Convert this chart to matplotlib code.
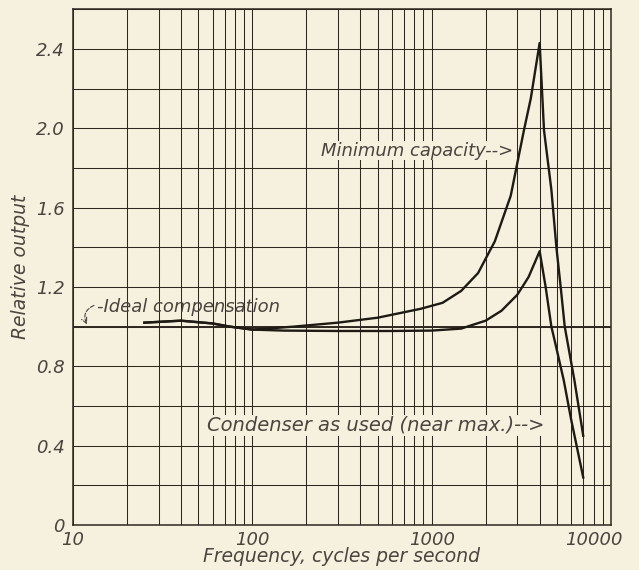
import numpy as np
import matplotlib.pyplot as plt
from matplotlib.ticker import LogLocator, MultipleLocator, FixedLocator, NullFormatter

plt.rcParams['font.style'] = 'italic'

# curves (frequency in c/s, relative output)
f_ideal = [10, 10000]
v_ideal = [1.0, 1.0]

f_min = [25, 40, 60, 75, 100, 120, 170, 300, 500, 870, 1150, 1460, 1815, 2250,
         2760, 3270, 3570, 4000, 4230, 4650, 4960, 5240, 5520, 6250, 7000]
v_min = [1.02, 1.03, 1.016, 1.0, 0.985, 0.99, 1.0, 1.02, 1.045, 1.09, 1.12, 1.18, 1.27, 1.43,
         1.66, 1.99, 2.15, 2.43, 1.99, 1.69, 1.40, 1.20, 1.00, 0.73, 0.45]

f_cond = [25, 40, 60, 75, 100, 150, 300, 600, 1000, 1460, 2000, 2450, 3000, 3470,
          4000, 4320, 4650, 4850, 5450, 6000, 7000]
v_cond = [1.02, 1.03, 1.016, 1.0, 0.985, 0.98, 0.978, 0.978, 0.98, 0.99, 1.03, 1.08, 1.16, 1.25,
          1.38, 1.20, 1.00, 0.93, 0.73, 0.53, 0.24]

x_ticks = [10, 100, 1000, 10000]
x_labels = ["10", "100", "1000", ""]
y_ticks = [0, 0.4, 0.8, 1.2, 1.6, 2.0, 2.4]
y_labels = ["0", "0.4", "0.8", "1.2", "1.6", "2.0", "2.4"]

paper = "#f6f1df"
ink = "#2e2820"
txt = "#4a453e"

fig = plt.figure(figsize=(6.39, 5.70), dpi=100, facecolor=paper)
ax = fig.add_axes([0.1142, 0.0789, 0.842, 0.905])
ax.set_facecolor(paper)

ax.set_xscale("log")
ax.set_xlim(10, 10000)
ax.set_ylim(0, 2.6)

ax.xaxis.set_major_locator(FixedLocator(x_ticks))
ax.xaxis.set_minor_locator(LogLocator(base=10, subs=np.arange(2, 10)))
ax.xaxis.set_minor_formatter(NullFormatter())
ax.set_xticklabels(x_labels, fontstyle="italic")
ax.yaxis.set_major_locator(FixedLocator(y_ticks))
ax.yaxis.set_minor_locator(MultipleLocator(0.2))
ax.set_yticklabels(y_labels, fontstyle="italic")

ax.grid(True, which="both", color=ink, lw=0.75)
ax.set_axisbelow(True)
for s in ax.spines.values():
    s.set_color(ink)
    s.set_linewidth(1.1)

ax.tick_params(which="both", length=0, colors=txt, labelsize=13)
ax.tick_params(axis="x", pad=4)
ax.tick_params(axis="y", pad=6)
# last label would run off the page, so it sits a little to the left like the original
ax.annotate("10000", xy=(10000, 0), xytext=(-12, -4), textcoords="offset points",
            ha="center", va="top", fontsize=13, style="italic", color=txt,
            annotation_clip=False)

ax.plot(f_ideal, v_ideal, color=ink, lw=1.4)
ax.plot(f_min, v_min, color="#1e1a14", lw=1.7)
ax.plot(f_cond, v_cond, color="#1e1a14", lw=1.7)

ax.set_xlabel("Frequency, cycles per second", fontsize=13.5, style="italic",
              color=txt, labelpad=-1)
ax.set_ylabel("Relative output", fontsize=13.5, style="italic", color=txt, labelpad=4)

ax.text(13.6, 1.097, "-Ideal compensation", fontsize=13, style="italic",
        color=txt, va="center", ha="left")
ax.annotate("", xy=(11.97, 1.011), xytext=(13.1, 1.107),
            arrowprops=dict(arrowstyle="->", linestyle="--", color=txt, lw=0.8,
                            connectionstyle="arc3,rad=0.5", shrinkA=0, shrinkB=0))
ax.text(240, 1.887, "Minimum capacity-->", fontsize=13, style="italic",
        color=txt, va="center", ha="left",
        bbox=dict(facecolor=paper, edgecolor="none", pad=0.5))
ax.text(56, 0.503, "Condenser as used (near max.)-->", fontsize=14, style="italic",
        color=txt, va="center", ha="left",
        bbox=dict(facecolor=paper, edgecolor="none", pad=0.5))

fig.savefig("out.png", dpi=100, facecolor=paper)
